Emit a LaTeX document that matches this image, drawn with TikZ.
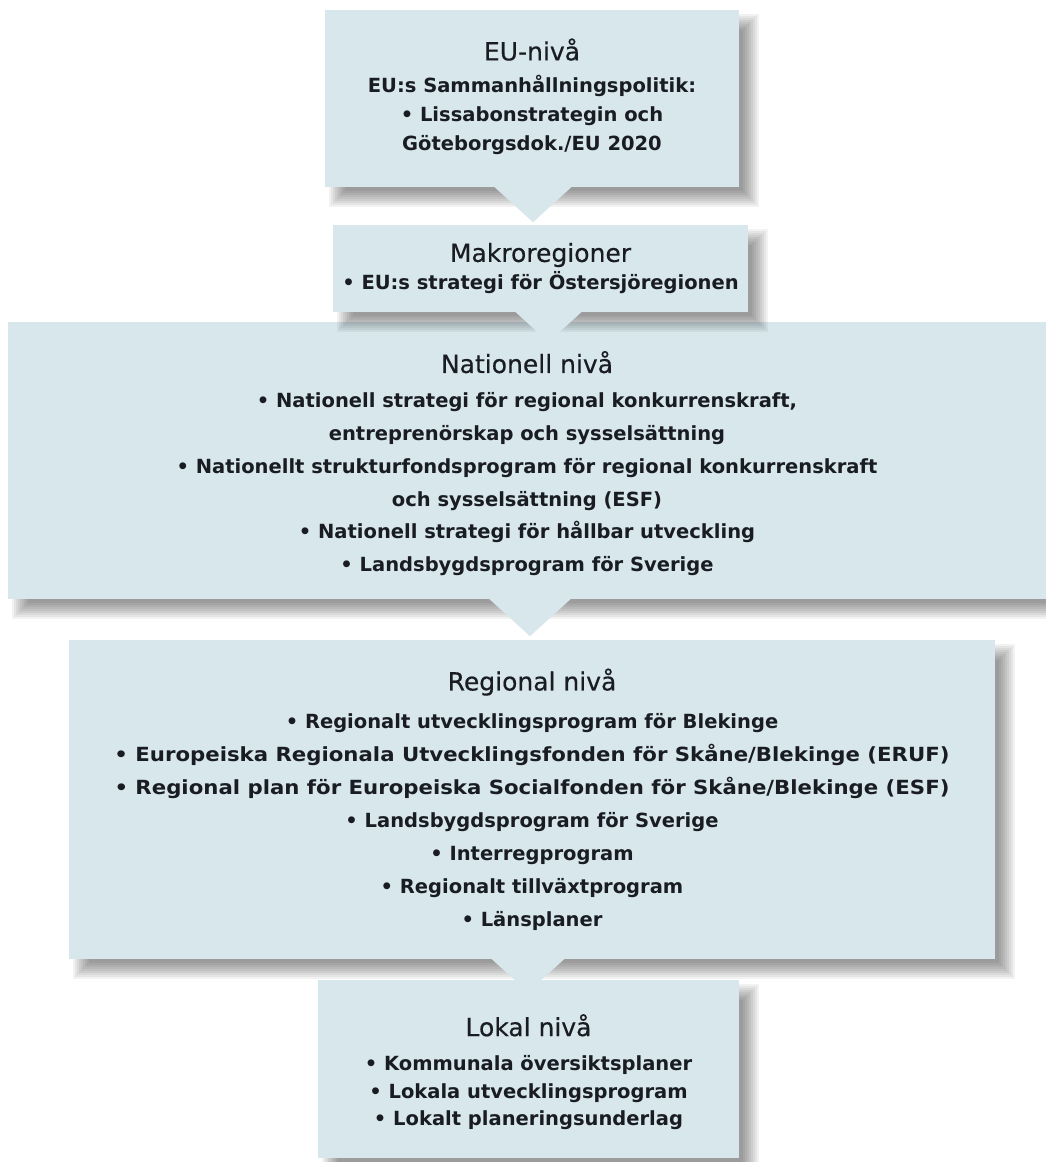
\documentclass[tikz,border=0pt]{standalone}
\usepackage{fontspec}
\setmainfont{DejaVu Sans}
\newfontfamily\hdfont{DejaVu Sans}[FakeBold=0.4]
\usetikzlibrary{calc,fit}
\definecolor{boxfill}{HTML}{D7E7EC}
\definecolor{txt}{HTML}{1A1C24}
\newcommand{\blurshadow}[2]{%
  \foreach \k in {-8,-6,...,8}{%
    \fill[black,opacity=0.052] ($(#1)+(12+\k,12+\k)$) rectangle ($(#2)+(12-\k,12-\k)$);
  }}
\newcommand{\pointer}[3]{%
  \fill[boxfill] ($(#1.south)+(#2,#3)$) -- ++({-1.1*#3-2},{-#3-2}) -- ++({2.2*#3+4},0) -- cycle;}
\newcommand{\hd}[1]{{\hdfont\mdseries\fontsize{25}{30}\selectfont #1}}
\newcommand{\wide}[1]{\scalebox{1.09}[1]{#1}}
\tikzset{
  box/.style={fill=boxfill, inner sep=0pt},
  items/.style={inner sep=0pt, align=center, text=txt, font=\fontsize{19.5}{#1}\selectfont\bfseries}
}
\begin{document}
\begin{tikzpicture}[x=1pt,y=-1pt]
\fill[white] (0,0) rectangle (1046,1162);
\useasboundingbox (0,0) rectangle (1046,1162);
% corners
\coordinate (loNW) at (318,980);  \coordinate (loSE) at (739,1158);
\coordinate (reNW) at (69,640);   \coordinate (reSE) at (995,959);
\coordinate (naNW) at (8,322);    \coordinate (naSE) at (1046,599);
\coordinate (maNW) at (333,225);  \coordinate (maSE) at (748,312);
\coordinate (euNW) at (325,10);   \coordinate (euSE) at (739,187);
% Lokal
\blurshadow{loNW}{loSE}
\node[box, fit=(loNW)(loSE)] (lo) {};
\node[items=27.5] (lotext) at ($(lo.center)+(0,3)$) {\hd{Lokal nivå}\\[7pt]
• Kommunala översiktsplaner\\
• Lokala utvecklingsprogram\\
• Lokalt planeringsunderlag};
% Regional
\blurshadow{reNW}{reSE}
\node[box, fit=(reNW)(reSE)] (re) {};
\node[items=33] (retext) at ($(re.center)+(0,0)$) {\hd{Regional nivå}\\[5pt]
• Regionalt utvecklingsprogram för Blekinge\\
\wide{• Europeiska Regionala Utvecklingsfonden för Skåne/Blekinge (ERUF)}\\
\wide{• Regional plan för Europeiska Socialfonden för Skåne/Blekinge (ESF)}\\
• Landsbygdsprogram för Sverige\\
• Interregprogram\\
• Regionalt tillväxtprogram\\
• Länsplaner};
\pointer{re}{-4}{33}
% Nationell
\blurshadow{naNW}{naSE}
\node[box, fit=(naNW)(naSE)] (na) {};
\node[items=32.8] (natext) at ($(na.center)+(0,3)$) {\hd{Nationell nivå}\\[2pt]
• Nationell strategi för regional konkurrenskraft,\\
entreprenörskap och sysselsättning\\
• Nationellt strukturfondsprogram för regional konkurrenskraft\\
och sysselsättning (ESF)\\
• Nationell strategi för hållbar utveckling\\
• Landsbygdsprogram för Sverige};
\pointer{na}{3}{37}
% Makro
\blurshadow{maNW}{maSE}
\node[box, fit=(maNW)(maSE)] (ma) {};
\node[items=28] (matext) at ($(ma.center)+(0,0)$) {\hd{Makroregioner}\\
• EU:s strategi för Östersjöregionen};
\pointer{ma}{8}{30}
% EU
\blurshadow{euNW}{euSE}
\node[box, fit=(euNW)(euSE)] (eu) {};
\node[items=29] (eutext) at ($(eu.center)+(0,-2)$) {\hd{EU-nivå}\\[3pt]
EU:s Sammanhållningspolitik:\\
• Lissabonstrategin och\\
Göteborgsdok./EU 2020};
\pointer{eu}{1}{35}
\end{tikzpicture}
\end{document}
